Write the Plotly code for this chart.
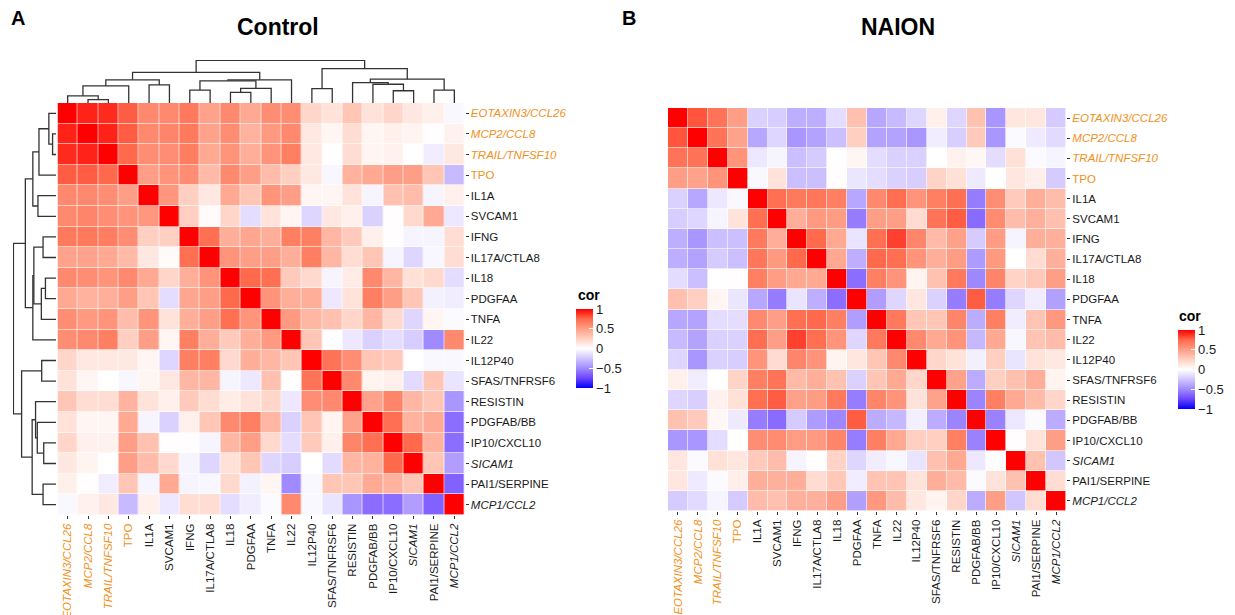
import plotly.graph_objects as go

OFF = 8  # page body margin of the browser
W, H = 1235 - OFF, 615 - OFF

labels = ["EOTAXIN3/CCL26", "MCP2/CCL8", "TRAIL/TNFSF10", "TPO", "IL1A", "SVCAM1", "IFNG",
          "IL17A/CTLA8", "IL18", "PDGFAA", "TNFA", "IL22", "IL12P40", "SFAS/TNFRSF6",
          "RESISTIN", "PDGFAB/BB", "IP10/CXCL10", "SICAM1", "PAI1/SERPINE", "MCP1/CCL2"]
orange_labels = ["EOTAXIN3/CCL26", "MCP2/CCL8", "TRAIL/TNFSF10", "TPO"]
italic_labels = ["EOTAXIN3/CCL26", "MCP2/CCL8", "TRAIL/TNFSF10", "SICAM1", "MCP1/CCL2"]

control = [
    [1, 0.92, 0.9, 0.78, 0.6, 0.6, 0.68, 0.48, 0.6, 0.45, 0.58, 0.58, 0.22, 0.15, 0.3, 0.15, 0.22, 0.12, 0.08, -0.03],
    [0.92, 1, 0.92, 0.78, 0.6, 0.62, 0.68, 0.48, 0.58, 0.4, 0.52, 0.6, 0.12, 0.05, 0.18, 0.05, 0.08, 0.06, 0.01, 0.07],
    [0.9, 0.92, 1, 0.75, 0.58, 0.58, 0.66, 0.45, 0.55, 0.42, 0.55, 0.65, 0.12, 0.0, 0.18, 0.05, 0.07, 0.0, -0.08, 0.12],
    [0.78, 0.78, 0.75, 1, 0.5, 0.55, 0.58, 0.36, 0.6, 0.5, 0.35, 0.25, 0.12, -0.04, 0.4, 0.45, 0.5, 0.5, 0.3, -0.3],
    [0.6, 0.6, 0.58, 0.5, 1, 0.54, 0.25, 0.12, 0.45, 0.3, 0.55, 0.5, 0.05, 0.05, 0.15, -0.05, 0.32, 0.35, -0.05, 0.08],
    [0.6, 0.62, 0.58, 0.55, 0.54, 1, 0.25, 0.02, 0.22, -0.15, 0.15, 0.05, -0.18, 0.12, 0.08, -0.2, 0.01, 0.2, 0.45, -0.1],
    [0.68, 0.68, 0.66, 0.58, 0.25, 0.25, 1, 0.72, 0.42, 0.46, 0.42, 0.65, 0.65, 0.38, 0.28, 0.08, 0.01, -0.05, -0.05, 0.18],
    [0.48, 0.48, 0.45, 0.36, 0.12, 0.02, 0.72, 1, 0.55, 0.5, 0.5, 0.42, 0.65, 0.38, 0.18, 0.3, -0.05, -0.18, -0.04, 0.18],
    [0.6, 0.58, 0.55, 0.6, 0.45, 0.22, 0.42, 0.55, 1, 0.75, 0.72, 0.28, 0.2, -0.05, 0.1, 0.6, 0.38, 0.16, 0.2, -0.15],
    [0.45, 0.4, 0.42, 0.5, 0.3, -0.15, 0.46, 0.5, 0.75, 1, 0.55, 0.42, 0.42, -0.1, 0.15, 0.65, 0.5, 0.3, -0.06, -0.08],
    [0.58, 0.52, 0.55, 0.35, 0.55, 0.15, 0.42, 0.5, 0.72, 0.55, 1, 0.52, 0.38, 0.33, 0.22, 0.38, 0.2, -0.18, 0.05, -0.02],
    [0.58, 0.6, 0.65, 0.25, 0.5, 0.05, 0.65, 0.42, 0.28, 0.42, 0.52, 1, 0.3, 0.0, -0.1, -0.2, -0.15, -0.22, -0.5, 0.6],
    [0.22, 0.12, 0.12, 0.12, 0.05, -0.18, 0.65, 0.65, 0.2, 0.42, 0.38, 0.3, 1, 0.7, 0.58, 0.3, 0.28, 0.0, -0.03, -0.03],
    [0.15, 0.05, 0.0, -0.04, 0.05, 0.12, 0.38, 0.38, -0.05, -0.1, 0.33, 0.0, 0.7, 1, 0.6, 0.06, 0.08, -0.16, 0.3, -0.12],
    [0.3, 0.18, 0.18, 0.4, 0.15, 0.08, 0.28, 0.18, 0.1, 0.15, 0.22, -0.1, 0.58, 0.6, 1, 0.48, 0.62, 0.38, 0.3, -0.45],
    [0.15, 0.05, 0.05, 0.45, -0.05, -0.2, 0.08, 0.3, 0.6, 0.65, 0.38, -0.2, 0.3, 0.06, 0.48, 1, 0.72, 0.4, 0.44, -0.6],
    [0.22, 0.08, 0.07, 0.5, 0.32, 0.01, 0.01, -0.05, 0.38, 0.5, 0.2, -0.15, 0.28, 0.08, 0.62, 0.72, 1, 0.75, 0.4, -0.6],
    [0.12, 0.06, 0.0, 0.5, 0.35, 0.2, -0.05, -0.18, 0.16, 0.3, -0.18, -0.22, 0.0, -0.16, 0.38, 0.4, 0.75, 1, 0.3, -0.42],
    [0.08, 0.01, -0.08, 0.3, -0.05, 0.45, -0.05, -0.04, 0.2, -0.06, 0.05, -0.5, -0.03, 0.3, 0.3, 0.44, 0.4, 0.3, 1, -0.65],
    [-0.03, 0.07, 0.12, -0.3, 0.08, -0.1, 0.18, 0.18, -0.15, -0.08, -0.02, 0.6, -0.03, -0.12, -0.45, -0.6, -0.6, -0.42, -0.65, 1],
]

naion = [
    [1, 0.8, 0.7, 0.5, -0.2, -0.22, -0.35, -0.35, -0.15, 0.33, -0.38, -0.3, -0.18, 0.08, -0.18, 0.32, -0.45, 0.13, 0.13, -0.23],
    [0.8, 1, 0.7, 0.48, -0.38, -0.18, -0.45, -0.4, -0.28, 0.25, -0.4, -0.4, -0.45, -0.08, -0.21, 0.28, -0.45, -0.02, -0.09, -0.16],
    [0.7, 0.7, 1, 0.55, -0.1, -0.05, -0.28, -0.23, 0.0, 0.05, -0.15, -0.2, -0.2, 0.0, 0.07, 0.04, -0.15, 0.16, -0.02, -0.05],
    [0.5, 0.48, 0.55, 1, -0.03, 0.15, -0.28, -0.28, 0.01, -0.11, -0.15, -0.2, -0.22, 0.23, 0.16, -0.09, 0.0, 0.13, 0.09, -0.23],
    [-0.2, -0.38, -0.1, -0.03, 1, 0.72, 0.68, 0.69, 0.65, -0.38, 0.6, 0.73, 0.55, 0.65, 0.72, -0.55, 0.58, 0.28, 0.42, 0.35],
    [-0.22, -0.18, -0.05, 0.15, 0.72, 1, 0.42, 0.52, 0.51, -0.55, 0.5, 0.5, 0.19, 0.7, 0.78, -0.61, 0.59, 0.35, 0.41, 0.33],
    [-0.35, -0.45, -0.28, -0.28, 0.68, 0.42, 1, 0.75, 0.45, -0.12, 0.72, 0.85, 0.62, 0.36, 0.49, -0.23, 0.51, -0.05, 0.42, 0.41],
    [-0.35, -0.4, -0.23, -0.28, 0.69, 0.52, 0.75, 1, 0.45, -0.35, 0.75, 0.72, 0.55, 0.42, 0.51, -0.43, 0.52, 0.0, 0.19, 0.41],
    [-0.15, -0.28, 0.0, 0.01, 0.65, 0.51, 0.45, 0.45, 1, -0.6, 0.65, 0.55, 0.06, 0.32, 0.68, -0.51, 0.62, 0.23, 0.29, 0.5],
    [0.33, 0.25, 0.05, -0.11, -0.38, -0.55, -0.12, -0.35, -0.6, 1, -0.42, -0.18, 0.13, -0.2, -0.55, 0.78, -0.55, -0.18, -0.08, -0.41],
    [-0.38, -0.4, -0.15, -0.15, 0.6, 0.5, 0.72, 0.75, 0.65, -0.42, 1, 0.68, 0.3, 0.3, 0.62, -0.36, 0.65, -0.08, 0.31, 0.53],
    [-0.3, -0.4, -0.2, -0.2, 0.73, 0.5, 0.85, 0.72, 0.55, -0.18, 0.68, 1, 0.6, 0.45, 0.55, -0.31, 0.45, -0.04, 0.31, 0.35],
    [-0.18, -0.45, -0.2, -0.22, 0.55, 0.19, 0.62, 0.55, 0.06, 0.13, 0.3, 0.6, 1, 0.22, 0.15, -0.07, 0.25, -0.12, 0.15, 0.12],
    [0.08, -0.08, 0.0, 0.23, 0.65, 0.7, 0.36, 0.42, 0.32, -0.2, 0.3, 0.45, 0.22, 1, 0.48, -0.36, 0.25, 0.33, 0.42, 0.06],
    [-0.18, -0.21, 0.07, 0.16, 0.72, 0.78, 0.49, 0.51, 0.68, -0.55, 0.62, 0.55, 0.15, 0.48, 1, -0.52, 0.65, 0.45, 0.36, 0.22],
    [0.32, 0.28, 0.04, -0.09, -0.55, -0.61, -0.23, -0.43, -0.51, 0.78, -0.36, -0.31, -0.07, -0.36, -0.52, 1, -0.53, -0.1, -0.02, -0.36],
    [-0.45, -0.45, -0.15, 0.0, 0.58, 0.59, 0.51, 0.52, 0.62, -0.55, 0.65, 0.45, 0.25, 0.25, 0.65, -0.53, 1, 0.01, 0.15, 0.5],
    [0.13, -0.02, 0.16, 0.13, 0.28, 0.35, -0.05, 0.0, 0.23, -0.18, -0.08, -0.04, -0.12, 0.33, 0.45, -0.1, 0.01, 1, 0.32, -0.25],
    [0.13, -0.09, -0.02, 0.09, 0.42, 0.41, 0.42, 0.19, 0.29, -0.08, 0.31, 0.31, 0.15, 0.42, 0.36, -0.02, 0.15, 0.32, 1, 0.18],
    [-0.23, -0.16, -0.05, -0.23, 0.35, 0.33, 0.41, 0.41, 0.5, -0.41, 0.53, 0.35, 0.12, 0.06, 0.22, -0.36, 0.5, -0.25, 0.18, 1],
]

# hierarchical clustering of the Control matrix: (left id, right id, merge height); new ids start at 20
linkage = [
    (1, 2, 10), (0, 20, 21), (21, 3, 50), (4, 5, 53), (22, 23, 68),
    (6, 7, 38), (8, 9, 31), (26, 10, 43), (25, 27, 65), (28, 11, 68),
    (24, 29, 90), (12, 13, 42), (16, 17, 36), (15, 32, 55), (14, 33, 60),
    (18, 19, 38), (34, 35, 70), (31, 36, 101), (30, 37, 125),
]

cbar_ticks = [-1, -0.5, 0, 0.5, 1]
cbar_text = ["\u22121", "\u22120.5", "0", "0.5", "1"]

colorscale = [
    [0.0, "#0000FF"], [0.125, "#6C45FF"], [0.25, "#A08AFF"], [0.375, "#D2C6FF"],
    [0.5, "#FFFFFF"], [0.625, "#FFD0C2"], [0.75, "#FF9E86"], [0.875, "#FF6A4C"], [1.0, "#FF0000"],
]

ORANGE = "#F39019"
FONT = "Liberation Sans, Arial, sans-serif"


def fmt(lab):
    t = lab
    if lab in italic_labels:
        t = "<i>" + t + "</i>"
    if lab in orange_labels:
        t = '<span style="color:%s">%s</span>' % (ORANGE, t)
    return t


ticktext = [fmt(l) for l in labels]
idx = list(range(len(labels)))


def px_x(p):
    return (p - OFF) / W


def px_y(p):
    return 1 - (p - OFF) / H


# dendrogram coordinates
pos = {i: float(i) for i in idx}
hgt = {i: 0.0 for i in idx}
seg_pos, seg_h = [], []
nid = len(labels)
for a, b, h in linkage:
    seg_pos += [pos[a], pos[a], pos[b], pos[b], None]
    seg_h += [hgt[a], h, h, hgt[b], None]
    pos[nid] = (pos[a] + pos[b]) / 2
    hgt[nid] = h
    nid += 1
root_h = linkage[-1][2]

fig = go.Figure()

cb_common = dict(
    thickness=17, lenmode="pixels", len=79, yanchor="top", xanchor="left",
    xpad=0, ypad=0, outlinewidth=0, tickvals=cbar_ticks, ticktext=cbar_text,
    ticks="inside", ticklen=4, tickcolor="white", tickwidth=1,
    tickfont=dict(family=FONT, size=13, color="#1a1a1a"),
)

fig.add_trace(go.Heatmap(
    z=control, x=idx, y=idx, zmin=-1, zmax=1, colorscale=colorscale,
    xgap=0.6, ygap=0.6, xaxis="x", yaxis="y",
    colorbar=dict(x=px_x(576), y=px_y(309), **cb_common),
))
fig.add_trace(go.Heatmap(
    z=naion, x=idx, y=idx, zmin=-1, zmax=1, colorscale=colorscale,
    xgap=0.6, ygap=0.6, xaxis="x2", yaxis="y2",
    colorbar=dict(x=px_x(1178), y=px_y(330), **cb_common),
))

dline = dict(color="#333333", width=1.3)
fig.add_trace(go.Scatter(x=seg_pos, y=seg_h, mode="lines", line=dline,
                         xaxis="x3", yaxis="y3", hoverinfo="skip", showlegend=False))
fig.add_trace(go.Scatter(x=seg_h, y=seg_pos, mode="lines", line=dline,
                         xaxis="x4", yaxis="y4", hoverinfo="skip", showlegend=False))

tickfont = dict(family=FONT, size=11.5, color="#1a1a1a")
axis_x = dict(tickmode="array", tickvals=idx, ticktext=ticktext, tickangle=-90,
              ticks="outside", ticklen=3, tickcolor="#333333", tickfont=tickfont,
              range=[-0.5, 19.5], showgrid=False, zeroline=False, showline=False,
              automargin=False, fixedrange=True)
axis_y = dict(tickmode="array", tickvals=idx, ticktext=ticktext, side="right",
              ticks="outside", ticklen=3, tickcolor="#333333", tickfont=tickfont,
              range=[19.5, -0.5], showgrid=False, zeroline=False, showline=False,
              automargin=False, fixedrange=True)
blank = dict(visible=False, showgrid=False, zeroline=False, automargin=False, fixedrange=True)

fig.update_layout(
    width=W, height=H, template="none",
    margin=dict(l=0, r=0, t=0, b=0),
    paper_bgcolor="white", plot_bgcolor="white",
    showlegend=False,
    font=dict(family=FONT, color="#1a1a1a"),
    xaxis=dict(domain=[px_x(57.5), px_x(464.5)], anchor="y", **axis_x),
    yaxis=dict(domain=[px_y(515), px_y(103)], anchor="x", **axis_y),
    xaxis2=dict(domain=[px_x(668), px_x(1066)], anchor="y2", **axis_x),
    yaxis2=dict(domain=[px_y(511), px_y(108)], anchor="x2", **axis_y),
    xaxis3=dict(domain=[px_x(57.5), px_x(464.5)], anchor="y3", range=[-0.5, 19.5], **blank),
    yaxis3=dict(domain=[px_y(103), px_y(60)], anchor="x3", range=[0, root_h * 1.01], **blank),
    xaxis4=dict(domain=[px_x(13), px_x(56)], anchor="y4", range=[root_h * 1.01, 0], **blank),
    yaxis4=dict(domain=[px_y(515), px_y(103)], anchor="x4", range=[19.5, -0.5], **blank),
    annotations=[
        dict(text="<b>Control</b>", x=px_x(278), y=px_y(27), xref="paper", yref="paper",
             showarrow=False, font=dict(size=23, family=FONT, color="#000000"),
             xanchor="center", yanchor="middle"),
        dict(text="<b>NAION</b>", x=px_x(898), y=px_y(27), xref="paper", yref="paper",
             showarrow=False, font=dict(size=23, family=FONT, color="#000000"),
             xanchor="center", yanchor="middle"),
        dict(text="<b>A</b>", x=px_x(18), y=px_y(18), xref="paper", yref="paper",
             showarrow=False, font=dict(size=20, family=FONT, color="#000000"),
             xanchor="center", yanchor="middle"),
        dict(text="<b>B</b>", x=px_x(629), y=px_y(18), xref="paper", yref="paper",
             showarrow=False, font=dict(size=20, family=FONT, color="#000000"),
             xanchor="center", yanchor="middle"),
        dict(text="<b>cor</b>", x=px_x(576), y=px_y(295), xref="paper", yref="paper",
             showarrow=False, font=dict(size=14, family=FONT, color="#000000"),
             xanchor="left", yanchor="middle"),
        dict(text="<b>cor</b>", x=px_x(1177), y=px_y(316), xref="paper", yref="paper",
             showarrow=False, font=dict(size=14, family=FONT, color="#000000"),
             xanchor="left", yanchor="middle"),
    ],
)

fig.write_html("out.html")
